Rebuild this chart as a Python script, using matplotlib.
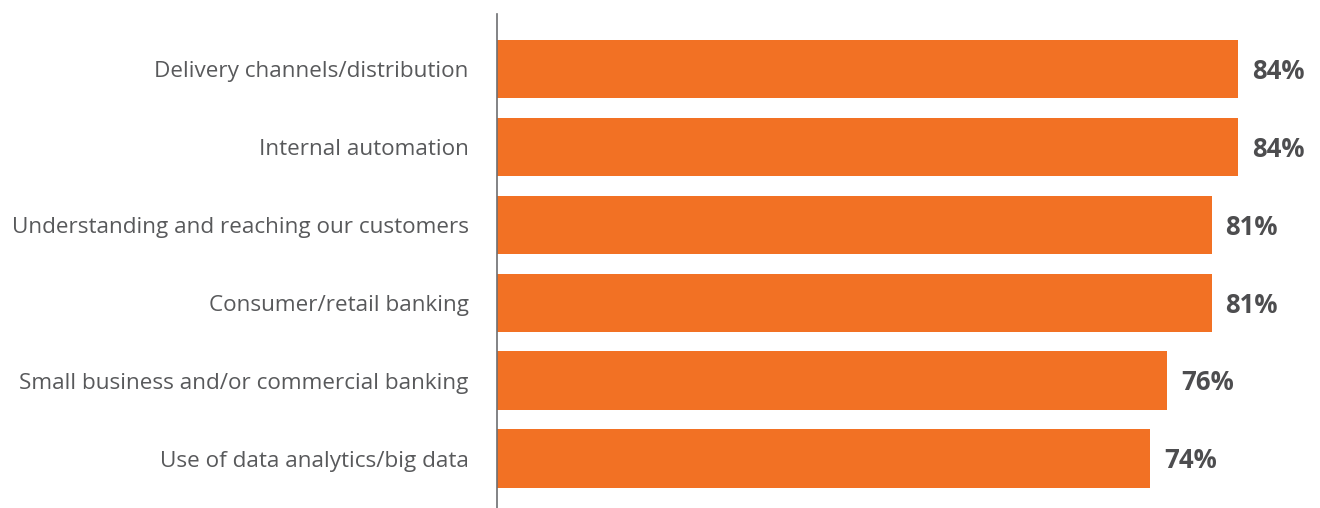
import matplotlib.pyplot as plt

categories = [
    "Delivery channels/distribution",
    "Internal automation",
    "Understanding and reaching our customers",
    "Consumer/retail banking",
    "Small business and/or commercial banking",
    "Use of data analytics/big data",
]
values = [84, 84, 81, 81, 76, 74]

plt.rcParams['font.family'] = ['Open Sans', 'DejaVu Sans']

fig = plt.figure(figsize=(13.2, 5.08), dpi=100)
# axes: left edge at x=497px, top at y=14px, down to the bottom
ax = fig.add_axes([497 / 1320, 0, 1 - 497 / 1320, (508 - 14) / 508])

pos = list(range(len(categories)))
ax.barh(pos, values, height=0.75, color='#F27124')

for p, v in zip(pos, values):
    ax.text(v + 1.6, p + 0.03, f"{v}%", va='center', ha='left',
            fontsize=18.5, fontweight='bold', color='#4D4D4F')

ax.set_xlim(0, 93.3)
ax.set_ylim(5.635, -0.706)
ax.set_yticks(pos)
ax.set_yticklabels(categories, fontsize=16.2, color='#58595B')
ax.tick_params(axis='y', length=0, pad=20.5)
ax.set_xticks([])

for s in ['top', 'right', 'bottom']:
    ax.spines[s].set_visible(False)
ax.spines['left'].set_color('#6D6E71')
ax.spines['left'].set_linewidth(1.2)

fig.savefig('out.png', dpi=100)
